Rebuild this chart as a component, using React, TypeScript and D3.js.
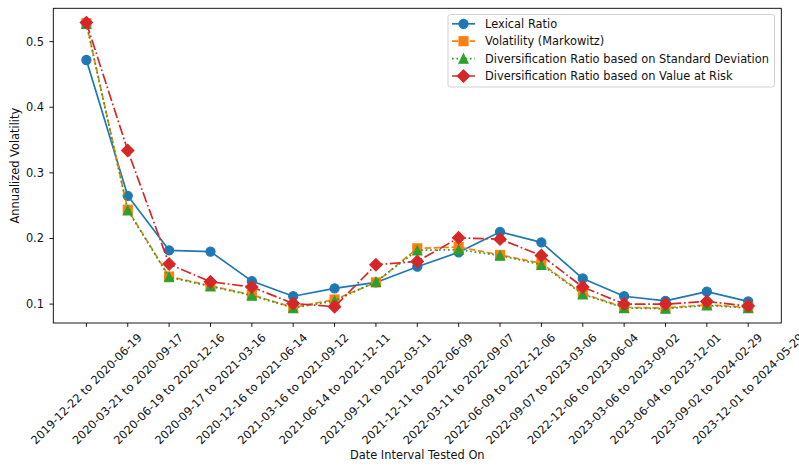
import React from "react";
import * as d3 from "d3";

const intervals = [
  "2019-12-22 to 2020-06-19",
  "2020-03-21 to 2020-09-17",
  "2020-06-19 to 2020-12-16",
  "2020-09-17 to 2021-03-16",
  "2020-12-16 to 2021-06-14",
  "2021-03-16 to 2021-09-12",
  "2021-06-14 to 2021-12-11",
  "2021-09-12 to 2022-03-11",
  "2021-12-11 to 2022-06-09",
  "2022-03-11 to 2022-09-07",
  "2022-06-09 to 2022-12-06",
  "2022-09-07 to 2023-03-06",
  "2022-12-06 to 2023-06-04",
  "2023-03-06 to 2023-09-02",
  "2023-06-04 to 2023-12-01",
  "2023-09-02 to 2024-02-29",
  "2023-12-01 to 2024-05-29",
];

const lexicalRatio = [0.472, 0.265, 0.182, 0.180, 0.135, 0.112, 0.124, 0.133, 0.157, 0.179, 0.210, 0.194, 0.139, 0.112, 0.105, 0.119, 0.104];
const markowitz = [0.528, 0.244, 0.142, 0.128, 0.114, 0.095, 0.107, 0.133, 0.185, 0.187, 0.175, 0.162, 0.116, 0.095, 0.094, 0.099, 0.095];
const divStd = [0.527, 0.243, 0.141, 0.127, 0.113, 0.094, 0.105, 0.134, 0.182, 0.183, 0.174, 0.160, 0.115, 0.094, 0.093, 0.098, 0.094];
const divVaR = [0.529, 0.334, 0.161, 0.134, 0.126, 0.101, 0.096, 0.160, 0.165, 0.201, 0.199, 0.174, 0.126, 0.100, 0.100, 0.104, 0.097];

const yTicks = [0.1, 0.2, 0.3, 0.4, 0.5];

const seriesNames = [
  "Lexical Ratio",
  "Volatility (Markowitz)",
  "Diversification Ratio based on Standard Deviation",
  "Diversification Ratio based on Value at Risk",
];

const W = 799;
const H = 466;
const left = 53.3;
const right = 781.3;
const top = 8.3;
const bottom = 323;
const FS = 11.4;
const FONT = "DejaVu Sans, sans-serif";
const TXT = "#111";

type Marker = "circle" | "square" | "triangle" | "diamond";

const series: { name: string; values: number[]; color: string; dash: string; marker: Marker }[] = [
  { name: seriesNames[0], values: lexicalRatio, color: "#1f77b4", dash: "", marker: "circle" },
  { name: seriesNames[1], values: markowitz, color: "#ff7f0e", dash: "6.24,2.7", marker: "square" },
  { name: seriesNames[2], values: divStd, color: "#2ca02c", dash: "1.69,2.78", marker: "triangle" },
  { name: seriesNames[3], values: divVaR, color: "#d62728", dash: "10.8,2.7,1.69,2.7", marker: "diamond" },
];

function MarkerShape({ type, x, y, color }: { type: Marker; x: number; y: number; color: string }) {
  const common = { fill: color, stroke: color, strokeWidth: 1.1 };
  if (type === "circle") return <circle cx={x} cy={y} r={4.6} {...common} />;
  if (type === "square") return <rect x={x - 4.5} y={y - 4.5} width={9} height={9} {...common} />;
  if (type === "triangle") {
    const p = `${x},${y - 4.6} ${x - 4.6},${y + 4.6} ${x + 4.6},${y + 4.6}`;
    return <polygon points={p} {...common} strokeLinejoin="miter" />;
  }
  const r = 6.2;
  const p = `${x},${y - r} ${x + r},${y} ${x},${y + r} ${x - r},${y}`;
  return <polygon points={p} {...common} />;
}

export default function App() {
  const allVals = series.flatMap((s) => s.values);
  const vmin = d3.min(allVals)!;
  const vmax = d3.max(allVals)!;
  const m = (vmax - vmin) * 0.05;
  const n = intervals.length;

  const x = d3.scaleLinear().domain([-0.05 * (n - 1), (n - 1) * 1.05]).range([left, right]);
  const y = d3.scaleLinear().domain([vmin - m, vmax + m]).range([bottom, top]);

  const line = d3
    .line<number>()
    .x((_, i) => x(i))
    .y((v) => y(v));

  const tickLen = 3.9;
  const pad = 3.9;
  const w = 13.262 * FS;
  const asc = 0.93 * FS;
  const desc = 0.24 * FS;
  const dx = 0.3535 * (w + asc - desc);
  const labelTop = bottom + tickLen + pad;

  const legX = 448;
  const legY = 14.5;
  const legW = 326.5;
  const legH = 72.5;
  const rowY = [23.8, 41.2, 58.6, 76.0];

  return (
    <svg width={W} height={H} style={{ position: "absolute", left: 0, top: 0, background: "#fff" }} fontFamily={FONT}>
      <rect x={0} y={0} width={W} height={H} fill="#fff" />
      {series.map((s) => (
        <g key={s.name}>
          <path
            d={line(s.values) || ""}
            fill="none"
            stroke={s.color}
            strokeWidth={1.69}
            strokeDasharray={s.dash || undefined}
            strokeLinejoin="round"
            strokeLinecap={s.dash ? "butt" : "square"}
          />
          {s.values.map((v, i) => (
            <MarkerShape key={i} type={s.marker} x={x(i)} y={y(v)} color={s.color} />
          ))}
        </g>
      ))}
      <rect x={left} y={top} width={right - left} height={bottom - top} fill="none" stroke="#000" strokeWidth={0.9} />
      {yTicks.map((t) => (
        <g key={t}>
          <line x1={left - tickLen} x2={left} y1={y(t)} y2={y(t)} stroke="#000" strokeWidth={0.9} />
          <text x={left - tickLen - pad - 1.5} y={y(t)} fontSize={FS} textAnchor="end" dominantBaseline="central" fill={TXT}>
            {d3.format(".1f")(t)}
          </text>
        </g>
      ))}
      {intervals.map((lab, i) => {
        const tx = x(i);
        const ex = tx + dx;
        const ey = labelTop + 0.707 * asc;
        return (
          <g key={lab}>
            <line x1={tx} x2={tx} y1={bottom} y2={bottom + tickLen} stroke="#000" strokeWidth={0.9} />
            <text x={ex} y={ey} fontSize={FS} textAnchor="end" transform={`rotate(-45 ${ex} ${ey})`} fill={TXT}>
              {lab}
            </text>
          </g>
        );
      })}
      <text x={(left + right) / 2} y={459} fontSize={FS} textAnchor="middle" fill={TXT}>
        Date Interval Tested On
      </text>
      <text
        x={19.5}
        y={(top + bottom) / 2}
        fontSize={FS}
        textAnchor="middle"
        transform={`rotate(-90 19.5 ${(top + bottom) / 2})`}
        fill={TXT}
      >
        Annualized Volatility
      </text>
      <rect x={legX} y={legY} width={legW} height={legH} rx={2.5} fill="#fff" fillOpacity={0.8} stroke="#cccccc" strokeWidth={0.9} />
      {series.map((s, i) => (
        <g key={"leg" + s.name}>
          <line
            x1={452}
            x2={475}
            y1={rowY[i]}
            y2={rowY[i]}
            stroke={s.color}
            strokeWidth={1.69}
            strokeDasharray={s.dash || undefined}
          />
          <MarkerShape type={s.marker} x={463.5} y={rowY[i]} color={s.color} />
          <text x={485} y={rowY[i]} fontSize={FS} dominantBaseline="central" fill={TXT}>
            {s.name}
          </text>
        </g>
      ))}
    </svg>
  );
}
